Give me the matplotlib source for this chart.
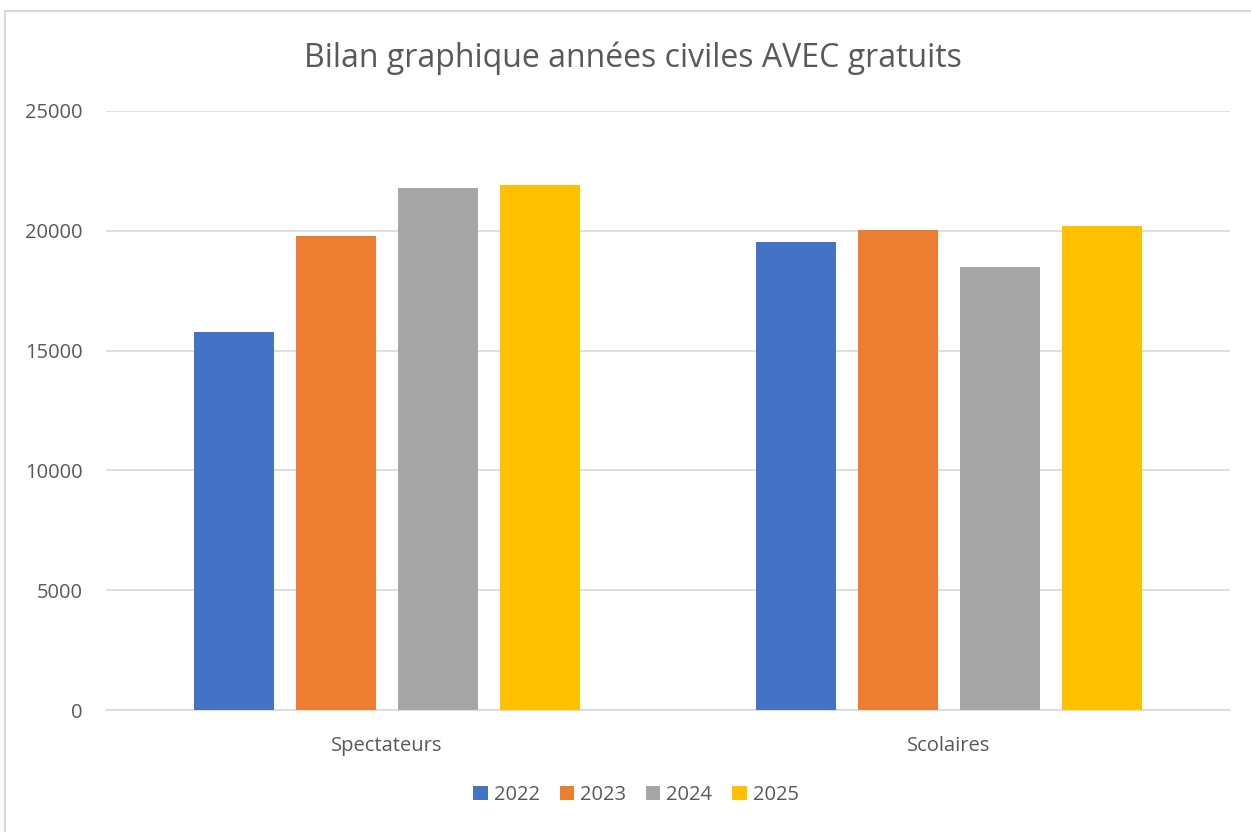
import numpy as np
import matplotlib.pyplot as plt
from matplotlib.patches import Rectangle

plt.rcParams['font.family'] = ['Open Sans', 'DejaVu Sans']

categories = ["Spectateurs", "Scolaires"]
years = ["2022", "2023", "2024", "2025"]
val_2022 = [15770, 19530]
val_2023 = [19800, 20040]
val_2024 = [21780, 18480]
val_2025 = [21930, 20220]
series = [val_2022, val_2023, val_2024, val_2025]
colors = ["#4472C4", "#ED7D31", "#A5A5A5", "#FFC000"]
yticks = [0, 5000, 10000, 15000, 20000, 25000]

txt = "#595959"

fig = plt.figure(figsize=(12.51, 8.32), dpi=100)
ax = fig.add_axes([106/1251, 1-710/832, (1230-106)/1251, (710-111)/832])

x = np.arange(len(categories))
step = 0.1815
width = 0.142
for i, (vals, c, yr) in enumerate(zip(series, colors, years)):
    ax.bar(x + (i - 1.5)*step, vals, width=width, color=c, label=yr, zorder=3)

ax.set_xlim(-0.5, 1.5)
ax.set_ylim(0, 25000)
ax.set_yticks(yticks)
ax.set_yticklabels([str(v) for v in yticks])
ax.set_xticks(x)
ax.set_xticklabels(categories)
ax.grid(axis='y', color='#d9d9d9', linewidth=1.2, zorder=0)
for s in ['top', 'right', 'left']:
    ax.spines[s].set_visible(False)
ax.spines['bottom'].set_color('#d9d9d9')
ax.spines['bottom'].set_linewidth(1.2)
ax.tick_params(axis='both', length=0, colors=txt, labelsize=14.5)
ax.tick_params(axis='y', pad=17)
ax.tick_params(axis='x', pad=19)

fig.text(633/1251, 1-58/832, "Bilan graphique années civiles AVEC gratuits",
         ha='center', va='center', fontsize=23, color=txt)

leg = fig.legend(loc='center', bbox_to_anchor=(636/1251, 1-795/832), ncol=4,
                 frameon=False, fontsize=14.5, handlelength=0.7, handleheight=0.7,
                 handletextpad=0.3, columnspacing=1.0)
for t in leg.get_texts():
    t.set_color(txt)

fig.patches.append(Rectangle((5/1251, -0.1), 1.2, 1 - 11/832 + 0.1,
                             transform=fig.transFigure, fill=False,
                             edgecolor='#d9d9d9', linewidth=1.5))

fig.savefig("out.png", dpi=100)
